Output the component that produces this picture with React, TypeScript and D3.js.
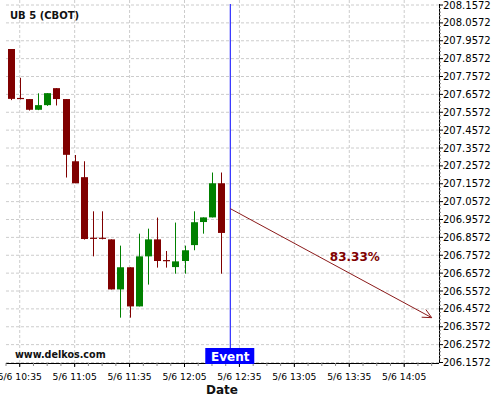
import React from "react";
import * as d3 from "d3";

const title = "UB 5 (CBOT)";
const times = ["10:30","10:35","10:40","10:45","10:50","10:55","11:00","11:05","11:10","11:15","11:20","11:25","11:30","11:35","11:40","11:45","11:50","11:55","12:00","12:05","12:10","12:15","12:20","12:25"];
const opens = [207.911,207.634,207.631,207.571,207.597,207.692,207.631,207.283,207.194,206.852,206.852,206.846,206.566,206.690,206.471,206.751,206.846,206.727,206.691,206.725,206.814,206.943,206.969,207.160];
const highs = [207.911,207.750,207.631,207.663,207.664,207.692,207.631,207.318,207.283,207.003,207.003,206.846,206.811,206.690,206.878,206.906,206.968,206.781,206.940,206.811,207.003,206.969,207.220,207.220];
const lows = [207.625,207.629,207.567,207.569,207.593,207.595,207.192,207.160,206.845,206.751,206.846,206.566,206.408,206.408,206.471,206.593,206.688,206.688,206.654,206.654,206.785,206.878,206.969,206.654];
const closes = [207.632,207.634,207.571,207.597,207.664,207.631,207.319,207.160,206.848,206.852,206.852,206.566,206.690,206.471,206.751,206.846,206.725,206.727,206.723,206.785,206.942,206.969,207.160,206.882];
const yTicks = [206.1572,206.2572,206.3572,206.4572,206.5572,206.6572,206.7572,206.8572,206.9572,207.0572,207.1572,207.2572,207.3572,207.4572,207.5572,207.6572,207.7572,207.8572,207.9572,208.0572,208.1572];
const xTickTimes = ["10:35","11:05","11:35","12:05","12:35","13:05","13:35","14:05"];
const eventTime = "12:30";
const arrowTimes = ["12:30","14:20"];
const arrowPrices = [207.018, 206.408];
const probLabel = "83.33%";
const probTime = "13:38";
const probPrice = 206.723;

const t = (s: string) => {
  const [h, m] = s.split(":").map(Number);
  return new Date(2024, 4, 6, h, m, 0);
};

export default function App() {
  const W = 500, H = 400;
  const left = 6, right = 439, top = 4, bottom = 363;
  const x = d3.scaleTime().domain([new Date(2024,4,6,10,27,30), new Date(2024,4,6,14,24,0)]).range([left, right]);
  const y = d3.scaleLinear().domain([206.1572, 208.1572]).range([362.5, 5]);
  const fmt = d3.timeFormat("%-m/%-d %H:%M");
  const font = "DejaVu Sans";
  const minorX = d3.timeMinute.every(1)!.range(x.domain()[0], x.domain()[1]).filter((d) => ((d.getHours()*60 + d.getMinutes()) * 2 + (d.getSeconds() ? 1 : 0)) % 15 === 0);
  const xMinor: Date[] = [];
  for (let v = x.domain()[0].getTime(); v <= x.domain()[1].getTime(); v += 7.5 * 60000) xMinor.push(new Date(v));
  const yMinor: number[] = [];
  for (let i = 0; i < yTicks.length - 1; i++) for (let k = 1; k < 5; k++) yMinor.push(yTicks[i] + k * 0.02);
  const bull = "#008000", bear = "#800000";
  const ex = x(t(eventTime));
  const ax1 = x(t(arrowTimes[0])), ay1 = y(arrowPrices[0]);
  const ax2 = x(t(arrowTimes[1])), ay2 = y(arrowPrices[1]);
  const ang = Math.atan2(ay2 - ay1, ax2 - ax1);
  const hl = 10, ha = 0.45;
  const b1 = [ax2 - hl * Math.cos(ang - ha), ay2 - hl * Math.sin(ang - ha)];
  const b2 = [ax2 - hl * Math.cos(ang + ha), ay2 - hl * Math.sin(ang + ha)];
  void minorX;
  return (
    <svg width={W} height={H} style={{ position: "absolute", left: 0, top: 0, background: "#fff" }} fontFamily={font}>
      <rect width={W} height={H} fill="#fff" />
      {yTicks.map((v) => (
        <line key={"gy" + v} x1={left} x2={right} y1={y(v)} y2={y(v)} stroke="#cccccc" strokeDasharray="3,2" />
      ))}
      {xTickTimes.map((s) => (
        <line key={"gx" + s} x1={x(t(s))} x2={x(t(s))} y1={0} y2={bottom} stroke="#cccccc" strokeDasharray="3,2" />
      ))}
      <text x={10} y={19} fontSize={10} fontWeight="bold" fill="#111">{title}</text>
      {times.map((s, i) => {
        const cx = Math.round(x(t(s))) + 0.5;
        const up = closes[i] > opens[i];
        const c = up ? bull : bear;
        const yt = y(Math.max(opens[i], closes[i]));
        const yb = y(Math.min(opens[i], closes[i]));
        return (
          <g key={s}>
            <line x1={cx} x2={cx} y1={y(highs[i])} y2={y(lows[i])} stroke={c} strokeWidth={1} />
            {yb - yt < 1 ? (
              <line x1={cx - 3.5} x2={cx + 3.5} y1={yt} y2={yt} stroke={c} strokeWidth={1.2} />
            ) : (
              <rect x={cx - 3.5} y={yt} width={7} height={yb - yt} fill={c} />
            )}
          </g>
        );
      })}
      <line x1={ex} x2={ex} y1={top} y2={bottom} stroke="#0000ff" strokeWidth={1} />
      <line x1={ax1} y1={ay1} x2={ax2} y2={ay2} stroke="#8b1a1a" strokeWidth={1} />
      <polyline points={`${b1[0]},${b1[1]} ${ax2},${ay2} ${b2[0]},${b2[1]}`} fill="none" stroke="#8b1a1a" strokeWidth={1} />
      <text x={x(t(probTime))} y={y(probPrice)} fontSize={12} fontWeight="bold" fill="#800000" textAnchor="middle">{probLabel}</text>
      <line x1={right + 0.5} x2={right + 0.5} y1={top} y2={bottom} stroke="#000" />
      <line x1={left} x2={right} y1={bottom + 0.5} y2={bottom + 0.5} stroke="#000" />
      {yTicks.map((v) => (
        <g key={"yt" + v}>
          <line x1={right} x2={right + 4} y1={y(v)} y2={y(v)} stroke="#000" />
          <text x={right + 4} y={y(v)} dy="0.35em" fontSize={10} fill="#000">{v.toFixed(4)}</text>
        </g>
      ))}
      {yMinor.map((v) => (
        <line key={"ym" + v} x1={right} x2={right + 2} y1={y(v)} y2={y(v)} stroke="#888" />
      ))}
      {xMinor.map((d) => (
        <line key={"xm" + d.getTime()} x1={x(d)} x2={x(d)} y1={bottom} y2={bottom + 3} stroke="#888" />
      ))}
      {xTickTimes.map((s) => (
        <g key={"xt" + s}>
          <line x1={x(t(s))} x2={x(t(s))} y1={bottom} y2={bottom + 4} stroke="#000" />
          <text x={x(t(s))} y={380} fontSize={9.2} textAnchor="middle" fill="#000">{fmt(t(s))}</text>
        </g>
      ))}
      <text x={15} y={358} fontSize={9.6} fontWeight="bold" fill="#111">www.delkos.com</text>
      <rect x={ex - 25} y={348} width={49} height={16} fill="#0000ff" />
      <text x={ex} y={361} fontSize={12} fontWeight="bold" fill="#fff" textAnchor="middle">Event</text>
      <text x={222} y={394} fontSize={12} fontWeight="bold" fill="#111" textAnchor="middle">Date</text>
    </svg>
  );
}
